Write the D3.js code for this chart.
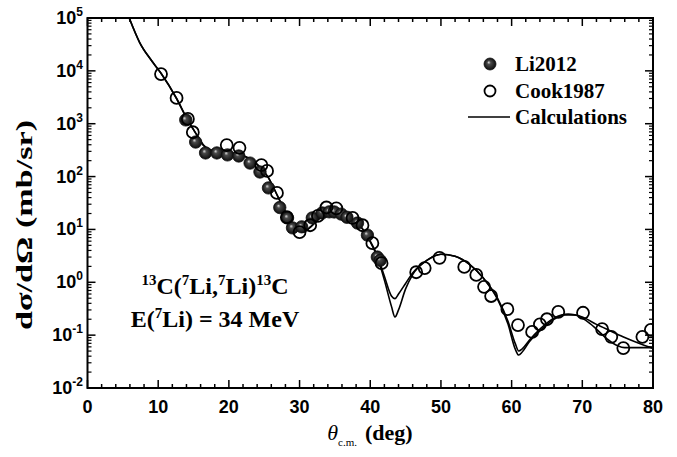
<!DOCTYPE html>
<html><head><meta charset="utf-8">
<script src="https://cdn.jsdelivr.net/npm/d3@7"></script>
<style>body{margin:0;background:#fff}</style>
</head><body>
<svg id="c" width="677" height="457"></svg>
<script>
// Cook1987 (open circles)
const cookX = [10.4,12.6,14.2,14.9,19.7,21.5,24.6,25.4,26.8,28.2,30.0,31.5,32.6,33.8,35.2,37.5,38.9,40.3,41.6,46.5,47.7,49.8,53.3,55.0,56.1,57.1,59.4,60.9,62.9,64.0,65.0,66.6,70.1,72.8,74.1,75.8,78.5,79.7];
const cookY = [8700,3070,1230,690,395,350,165,128,49,17,8.9,12,18,26,25,16.5,12,5.5,2.3,1.55,1.86,2.9,1.95,1.38,0.82,0.55,0.31,0.155,0.115,0.16,0.20,0.275,0.265,0.13,0.093,0.057,0.093,0.126];
// Li2012 (filled circles)
const liX = [13.9,15.3,16.7,18.3,19.8,21.4,23.0,24.4,25.6,27.2,28.3,29.0,30.3,31.8,33.2,34.2,34.9,35.9,36.7,38.2,39.6,41.0,41.4];
const liY = [1180,450,280,280,257,245,180,122,61,26,16.5,10.7,11.2,16.5,20.5,21.5,21.4,19.5,17,13.2,7.8,3.0,2.6];
// Calculations (two curves)
const calcX1 = [5.9,7.4,9,10.4,12.6,14,15.5,16.5,18,20,22,24,25.5,27,28.5,29.5,30.5,31.5,33,35,37,38.5,40,41,42,43,43.5,44,45,46,48,50,52,54,56,58,59.5,60.5,61,61.5,62.5,64,66,68,70,72,74,76,78,80];
const calcY1 = [1e5,34000,16000,9000,3000,1300,600,380,300,280,250,170,100,40,16,10.5,9,11,17,21,17,12,6,3.2,1.3,0.55,0.49,0.6,0.95,1.5,2.6,3.4,3.1,2.2,1.2,0.5,0.18,0.07,0.05,0.055,0.08,0.13,0.21,0.25,0.22,0.16,0.12,0.09,0.07,0.056];
const calcX2 = [5.9,7.4,9,10.4,12.6,14,15.5,16.5,18,20,22,24,25.5,27,28.5,29.5,30.5,31.5,33,35,37,38.5,40,41,42,43,43.5,44,45,46,48,50,52,54,56,58,59.5,60.5,61,61.5,62.5,64,66,67.5,69,70.5,72,73.5,75,76,80];
const calcY2 = [1e5,34000,16000,9000,3000,1300,600,380,300,280,250,170,100,40,16,10.5,9,11,17,21,17,12,5.8,3.0,1.1,0.35,0.22,0.3,0.75,1.4,2.6,3.4,3.1,2.2,1.2,0.48,0.16,0.055,0.042,0.048,0.075,0.12,0.2,0.24,0.24,0.19,0.13,0.085,0.063,0.058,0.058];
const xTicks = [0,10,20,30,40,50,60,70,80];
const yExps = [-2,-1,0,1,2,3,4,5];
const legendLabels = ["Li2012","Cook1987","Calculations"];

const svg = d3.select("#c");
const L=87.5,R=653,T=18,B=388;
const x = d3.scaleLinear([0,80],[L,R]);
const y = d3.scaleLog([1e-2,1e5],[B,T]);

const defs = svg.append("defs");
const g = defs.append("radialGradient").attr("id","ball").attr("cx","50%").attr("cy","50%").attr("r","50%").attr("fx","38%").attr("fy","35%");
g.append("stop").attr("offset","0%").attr("stop-color","#e0e0e0");
g.append("stop").attr("offset","30%").attr("stop-color","#4a4a4a");
g.append("stop").attr("offset","100%").attr("stop-color","#0c0c0c");
defs.append("clipPath").attr("id","clip").append("rect").attr("x",L).attr("y",T).attr("width",R-L).attr("height",B-T);

// axes
const minorY = [];
for (let e=-2;e<5;e++) for (let k=2;k<=9;k++) minorY.push(k*Math.pow(10,e));
const minorX = d3.range(0,81,2).filter(v=>v%10!==0);
const axG = svg.append("g").attr("stroke","#000").attr("stroke-width",1.5);
yExps.forEach(e=>{const yy=y(Math.pow(10,e));
  axG.append("line").attr("x1",L).attr("x2",L+8).attr("y1",yy).attr("y2",yy);
  axG.append("line").attr("x1",R).attr("x2",R-8).attr("y1",yy).attr("y2",yy);});
minorY.forEach(v=>{const yy=y(v);
  axG.append("line").attr("x1",L).attr("x2",L+4).attr("y1",yy).attr("y2",yy).attr("stroke-width",1.2);
  axG.append("line").attr("x1",R).attr("x2",R-4).attr("y1",yy).attr("y2",yy).attr("stroke-width",1.2);});
xTicks.forEach(v=>{const xx=x(v);
  axG.append("line").attr("x1",xx).attr("x2",xx).attr("y1",B).attr("y2",B-8);
  axG.append("line").attr("x1",xx).attr("x2",xx).attr("y1",T).attr("y2",T+8);});
minorX.forEach(v=>{const xx=x(v);
  axG.append("line").attr("x1",xx).attr("x2",xx).attr("y1",B).attr("y2",B-4);
  axG.append("line").attr("x1",xx).attr("x2",xx).attr("y1",T).attr("y2",T+4);});
svg.append("rect").attr("x",L).attr("y",T).attr("width",R-L).attr("height",B-T).attr("fill","none").attr("stroke","#000").attr("stroke-width",2);

// tick labels
const tf = "'Liberation Sans',Arial,sans-serif";
svg.append("g").selectAll("text").data(xTicks).join("text")
  .attr("x",d=>x(d)).attr("y",413).attr("text-anchor","middle")
  .attr("font-family",tf).attr("font-weight","bold").attr("font-size",18).text(d=>d);
yExps.forEach(e=>{
  const t = svg.append("text").attr("x",83).attr("y",y(Math.pow(10,e))+6).attr("text-anchor","end")
    .attr("font-family",tf).attr("font-weight","bold").attr("font-size",18);
  t.append("tspan").text("10");
  t.append("tspan").attr("dy",-8).attr("font-size",12).text(e);
});

// curves
const line = d3.line().x(d=>x(d[0])).y(d=>y(d[1])).curve(d3.curveMonotoneX);
const cg = svg.append("g").attr("clip-path","url(#clip)");
[[calcX1,calcY1],[calcX2,calcY2]].forEach(([xs,ys])=>{
  cg.append("path").datum(xs.map((v,i)=>[v,ys[i]])).attr("d",line).attr("fill","none").attr("stroke","#000").attr("stroke-width",1.6);
});

// points
svg.append("g").selectAll("circle").data(liX.map((v,i)=>[v,liY[i]])).join("circle")
  .attr("cx",d=>x(d[0])).attr("cy",d=>y(d[1])).attr("r",6.2).attr("fill","url(#ball)").attr("stroke","#111").attr("stroke-width",0.8);
svg.append("g").attr("clip-path","url(#clip)").selectAll("circle").data(cookX.map((v,i)=>[v,cookY[i]])).join("circle")
  .attr("cx",d=>x(d[0])).attr("cy",d=>y(d[1])).attr("r",6).attr("fill","none").attr("stroke","#000").attr("stroke-width",1.8);

// legend
const sf = "'Liberation Serif','Times New Roman',serif";
svg.append("circle").attr("cx",490).attr("cy",64).attr("r",6).attr("fill","url(#ball)").attr("stroke","#111").attr("stroke-width",0.8);
svg.append("circle").attr("cx",490).attr("cy",91).attr("r",5.5).attr("fill","none").attr("stroke","#000").attr("stroke-width",1.8);
svg.append("line").attr("x1",468).attr("x2",510).attr("y1",117).attr("y2",117).attr("stroke","#000").attr("stroke-width",1.6);
legendLabels.forEach((s,i)=>{
  svg.append("text").attr("x",515).attr("y",[71,98,124][i]).attr("font-family",sf).attr("font-weight","bold").attr("font-size",21).text(s);
});

// annotation
const a1 = svg.append("text").attr("x",215).attr("y",294).attr("text-anchor","middle").attr("font-family",sf).attr("font-weight","bold").attr("font-size",24);
a1.append("tspan").attr("font-size",15).attr("dy",-9).text("13");
a1.append("tspan").attr("dy",9).text("C(");
a1.append("tspan").attr("font-size",15).attr("dy",-9).text("7");
a1.append("tspan").attr("dy",9).text("Li,");
a1.append("tspan").attr("font-size",15).attr("dy",-9).text("7");
a1.append("tspan").attr("dy",9).text("Li)");
a1.append("tspan").attr("font-size",15).attr("dy",-9).text("13");
a1.append("tspan").attr("dy",9).text("C");
const a2 = svg.append("text").attr("x",215).attr("y",327).attr("text-anchor","middle").attr("font-family",sf).attr("font-weight","bold").attr("font-size",24);
a2.append("tspan").text("E(");
a2.append("tspan").attr("font-size",15).attr("dy",-9).text("7");
a2.append("tspan").attr("dy",9).text("Li) = 34 MeV");

// axis titles
svg.append("text").attr("transform","translate(32,225) rotate(-90)").attr("text-anchor","middle")
  .attr("font-family",sf).attr("font-weight","bold").attr("font-size",24)
  .attr("textLength",210).attr("lengthAdjust","spacingAndGlyphs").text("dσ/dΩ (mb/sr)");
const xt = svg.append("text").attr("x",370).attr("y",440).attr("text-anchor","middle").attr("font-family",sf).attr("font-size",22);
xt.append("tspan").attr("font-style","italic").text("θ");
xt.append("tspan").attr("font-size",11).attr("dy",6).text("c.m.");
xt.append("tspan").attr("dy",-6).attr("dx",8).attr("font-weight","bold").text("(deg)");
</script>
</body></html>
